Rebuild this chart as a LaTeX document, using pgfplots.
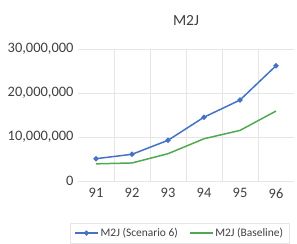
\documentclass[border=0pt]{standalone}
\usepackage{pgfplots}
\pgfplotsset{compat=1.18}
\usepackage{fontspec}
\setmainfont{Carlito}
\definecolor{sblue}{HTML}{4472C4}
\definecolor{sgreen}{HTML}{52A852}
\definecolor{tgray}{HTML}{404040}
\definecolor{ggray}{HTML}{E6E6E6}
\begin{document}
\begin{tikzpicture}
\useasboundingbox (-78bp,-63bp) rectangle (219bp,181bp);
\begin{axis}[
  scale only axis, width=216bp, height=132bp,
  xmin=90.5, xmax=96.5, ymin=0, ymax=30000000,
  xtick={91,92,93,94,95,96},
  minor xtick={91.5,92.5,93.5,94.5,95.5},
  ytick={0,10000000,20000000,30000000},
  yticklabels={0,{10,000,000},{20,000,000},{30,000,000}},
  scaled y ticks=false,
  axis line style={draw=none},
  major tick length=0pt, minor tick length=0pt,
  ymajorgrids, xminorgrids,
  grid style={ggray, line width=0.6pt},
  minor grid style={ggray, line width=0.6pt},
  /pgf/number format/assume math mode=true,
  tick label style={font=\fontsize{14.5}{16}\selectfont, text=tgray},
  yticklabel style={xshift=-1bp},
  xticklabel style={yshift=-4bp},
  title={M2J}, title style={font=\fontsize{15.5}{17}\selectfont, text=tgray, at={(0.5,1)}, yshift=14bp},
  legend columns=2,
  legend style={at={(rel axis cs:-0.037,-0.318)}, anchor=north west,
    draw=ggray, font=\fontsize{11.5}{14}\selectfont, text=tgray,
    inner xsep=4bp, inner ysep=3bp,
    /tikz/every even column/.append style={column sep=9bp}},
  legend image code/.code={\draw[mark repeat=2,mark phase=2,line width=1.5pt] plot coordinates {(0bp,0bp)(11.5bp,0bp)(23bp,0bp)};},
]
\addplot[sblue, line width=1.5pt, mark=*, mark size=1.8pt] coordinates {
  (91,5070000) (92,6070000) (93,9250000) (94,14500000) (95,18400000) (96,26200000)};
\addlegendentry{M2J (Scenario 6)}
\addplot[sgreen, line width=1.5pt] coordinates {
  (91,3900000) (92,4100000) (93,6200000) (94,9600000) (95,11500000) (96,15900000)};
\addlegendentry{M2J (Baseline)}
\end{axis}
\end{tikzpicture}
\end{document}
